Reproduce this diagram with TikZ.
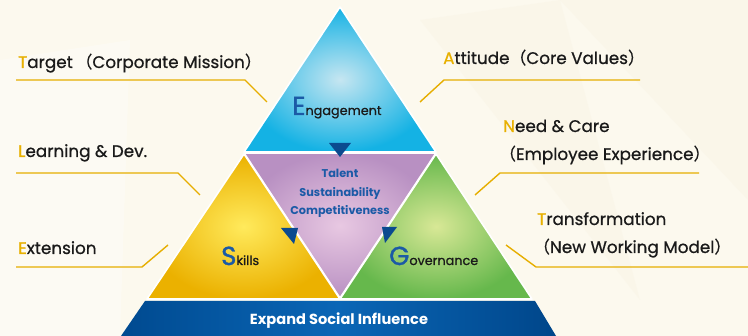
\documentclass[tikz,border=0pt]{standalone}
\usepackage{fontspec}
\setmainfont{Poppins}
\newfontfamily\med{Poppins}[FakeBold=0.7]
\newfontfamily\medbig{Poppins}[FakeBold=1.4]
\newfontfamily\cjk{Noto Sans CJK SC}[FakeBold=0.5]
\definecolor{bgcream}{HTML}{FCF9EE}
\definecolor{bgfaint}{HTML}{F7F1E0}
\definecolor{gold}{HTML}{E8B000}
\definecolor{lineGold}{HTML}{E6AE00}
\definecolor{txt}{HTML}{1A1A1A}
\definecolor{navy}{HTML}{1B5AA6}
\definecolor{arrowblue}{HTML}{0B4A8F}
\definecolor{skyIn}{HTML}{C6E6F1}
\definecolor{skyOut}{HTML}{14B2E4}
\definecolor{purIn}{HTML}{E8C8E2}
\definecolor{purOut}{HTML}{B890C2}
\definecolor{yelIn}{HTML}{FFEA5C}
\definecolor{yelOut}{HTML}{EBB100}
\definecolor{grnIn}{HTML}{D8E896}
\definecolor{grnOut}{HTML}{66B84C}
\definecolor{bandL}{HTML}{004A90}
\definecolor{bandM}{HTML}{0A66B6}
\definecolor{bandR}{HTML}{00468A}
\newcommand{\goldlet}[1]{\textcolor{gold}{#1}}
\newcommand{\navylet}[1]{\textcolor{navy}{\medbig\fontsize{26}{28}\selectfont #1}}
\begin{document}
\begin{tikzpicture}[x=1pt,y=-1pt,
  lbl/.style={anchor=base west,inner sep=0pt,font=\med\fontsize{16.8}{19}\selectfont,text=txt},
  leader/.style={draw=lineGold,line width=1.4pt},
  tri/.style={draw=white,line width=1.6pt,line join=round},
  pointer/.style={fill=arrowblue},
  centre/.style={inner sep=0pt,font=\bfseries\fontsize{11.3}{13}\selectfont,text=navy},
  big/.style={anchor=base west,inner sep=0pt,text=txt,font=\med}]
% background
\fill[bgcream] (0,0) rectangle (748,336);
\fill[bgfaint,opacity=0.35] (560,0) -- (748,0) -- (748,200) -- cycle;
\fill[bgfaint,opacity=0.3] (420,20) -- (560,0) -- (640,300) -- cycle;
\fill[white,opacity=0.3] (0,60) -- (130,40) -- (120,336) -- (0,336) -- cycle;
\useasboundingbox (0,0) rectangle (748,336);
% band
\shade[left color=bandL,right color=bandR,middle color=bandM] (145,301) -- (535,301) -- (556,336) -- (121,336) -- cycle;
\node[inner sep=0pt,anchor=base,text=white,font=\bfseries\fontsize{14.6}{17}\selectfont] (band) at (339,325) {Expand Social Influence};
% triangles
\shade[inner color=purIn,outer color=purOut] (244,153) -- (436,153) -- (340,298) -- cycle;
\draw[tri] (244,153) -- (436,153) -- (340,298) -- cycle;
\shade[inner color=skyIn,outer color=skyOut] (340,7) -- (436,152) -- (244,152) -- cycle;
\draw[tri] (340,7) -- (436,152) -- (244,152) -- cycle;
\shade[inner color=yelIn,outer color=yelOut] (244,154) -- (340,299) -- (147,299) -- cycle;
\draw[tri] (244,154) -- (340,299) -- (147,299) -- cycle;
\shade[inner color=grnIn,outer color=grnOut] (436,154) -- (532,299) -- (340,299) -- cycle;
\draw[tri] (436,154) -- (532,299) -- (340,299) -- cycle;
% pointers
\fill[pointer] (329,143) -- (351,143) -- (340,157) -- cycle;
\fill[pointer] (281,228) -- (298,228) -- (294,244) -- cycle;
\fill[pointer] (382,227) -- (397,227) -- (385,243) -- cycle;
% triangle labels
\node[big] (eng) at (292,115) {\navylet{E}\fontsize{12.8}{14}\selectfont ngagement};
\node[big] (skl) at (221,265) {\navylet{S}\fontsize{12.8}{14}\selectfont kills};
\node[big] (gov) at (389,265) {\navylet{G}\fontsize{12.8}{14}\selectfont overnance};
\node[centre,anchor=base] (tal) at (340,178) {Talent};
\node[centre,anchor=base] (sus) at (340,197) {Sustainability};
\node[centre,anchor=base] (com) at (340,215) {Competitiveness};
% side labels
\node[lbl] (target) at (18,68) {\goldlet{T}arget\,{\cjk （}Corporate Mission{\cjk ）}};
\node[lbl] (learn) at (18,157) {\goldlet{L}earning \& Dev.};
\node[lbl] (ext) at (18,254) {\goldlet{E}xtension};
\node[lbl] (att) at (443,64) {\goldlet{A}ttitude{\cjk （}Core Values{\cjk ）}};
\node[lbl] (need) at (503,132) {\goldlet{N}eed \& Care};
\node[lbl] (emp) at (499,160) {{\cjk （}Employee Experience{\cjk ）}};
\node[lbl] (trans) at (537,225) {\goldlet{T}ransformation};
\node[lbl] (nwm) at (533,253) {{\cjk （}New Working Model{\cjk ）}};
% leader coordinates
\coordinate (tA) at (16,80); \coordinate (tB) at (245,80); \coordinate (tC) at (267,102);
\coordinate (aA) at (420,102); \coordinate (aB) at (444,80); \coordinate (aC) at (640,80);
\coordinate (lA) at (16,173); \coordinate (lB) at (178,173); \coordinate (lC) at (200,195);
\coordinate (eA) at (168,245); \coordinate (eB) at (142,267); \coordinate (eC) at (16,267);
\coordinate (nA) at (475,195); \coordinate (nB) at (500,173); \coordinate (nC) at (699,173);
\coordinate (rA) at (506,245); \coordinate (rB) at (536,267); \coordinate (rC) at (748,267);
\draw[leader] (tA) -- (tB) -- (tC);
\draw[leader] (aA) -- (aB) -- (aC);
\draw[leader] (lA) -- (lB) -- (lC);
\draw[leader] (eA) -- (eB) -- (eC);
\draw[leader] (nA) -- (nB) -- (nC);
\draw[leader] (rA) -- (rB) -- (rC);
\end{tikzpicture}
\end{document}
